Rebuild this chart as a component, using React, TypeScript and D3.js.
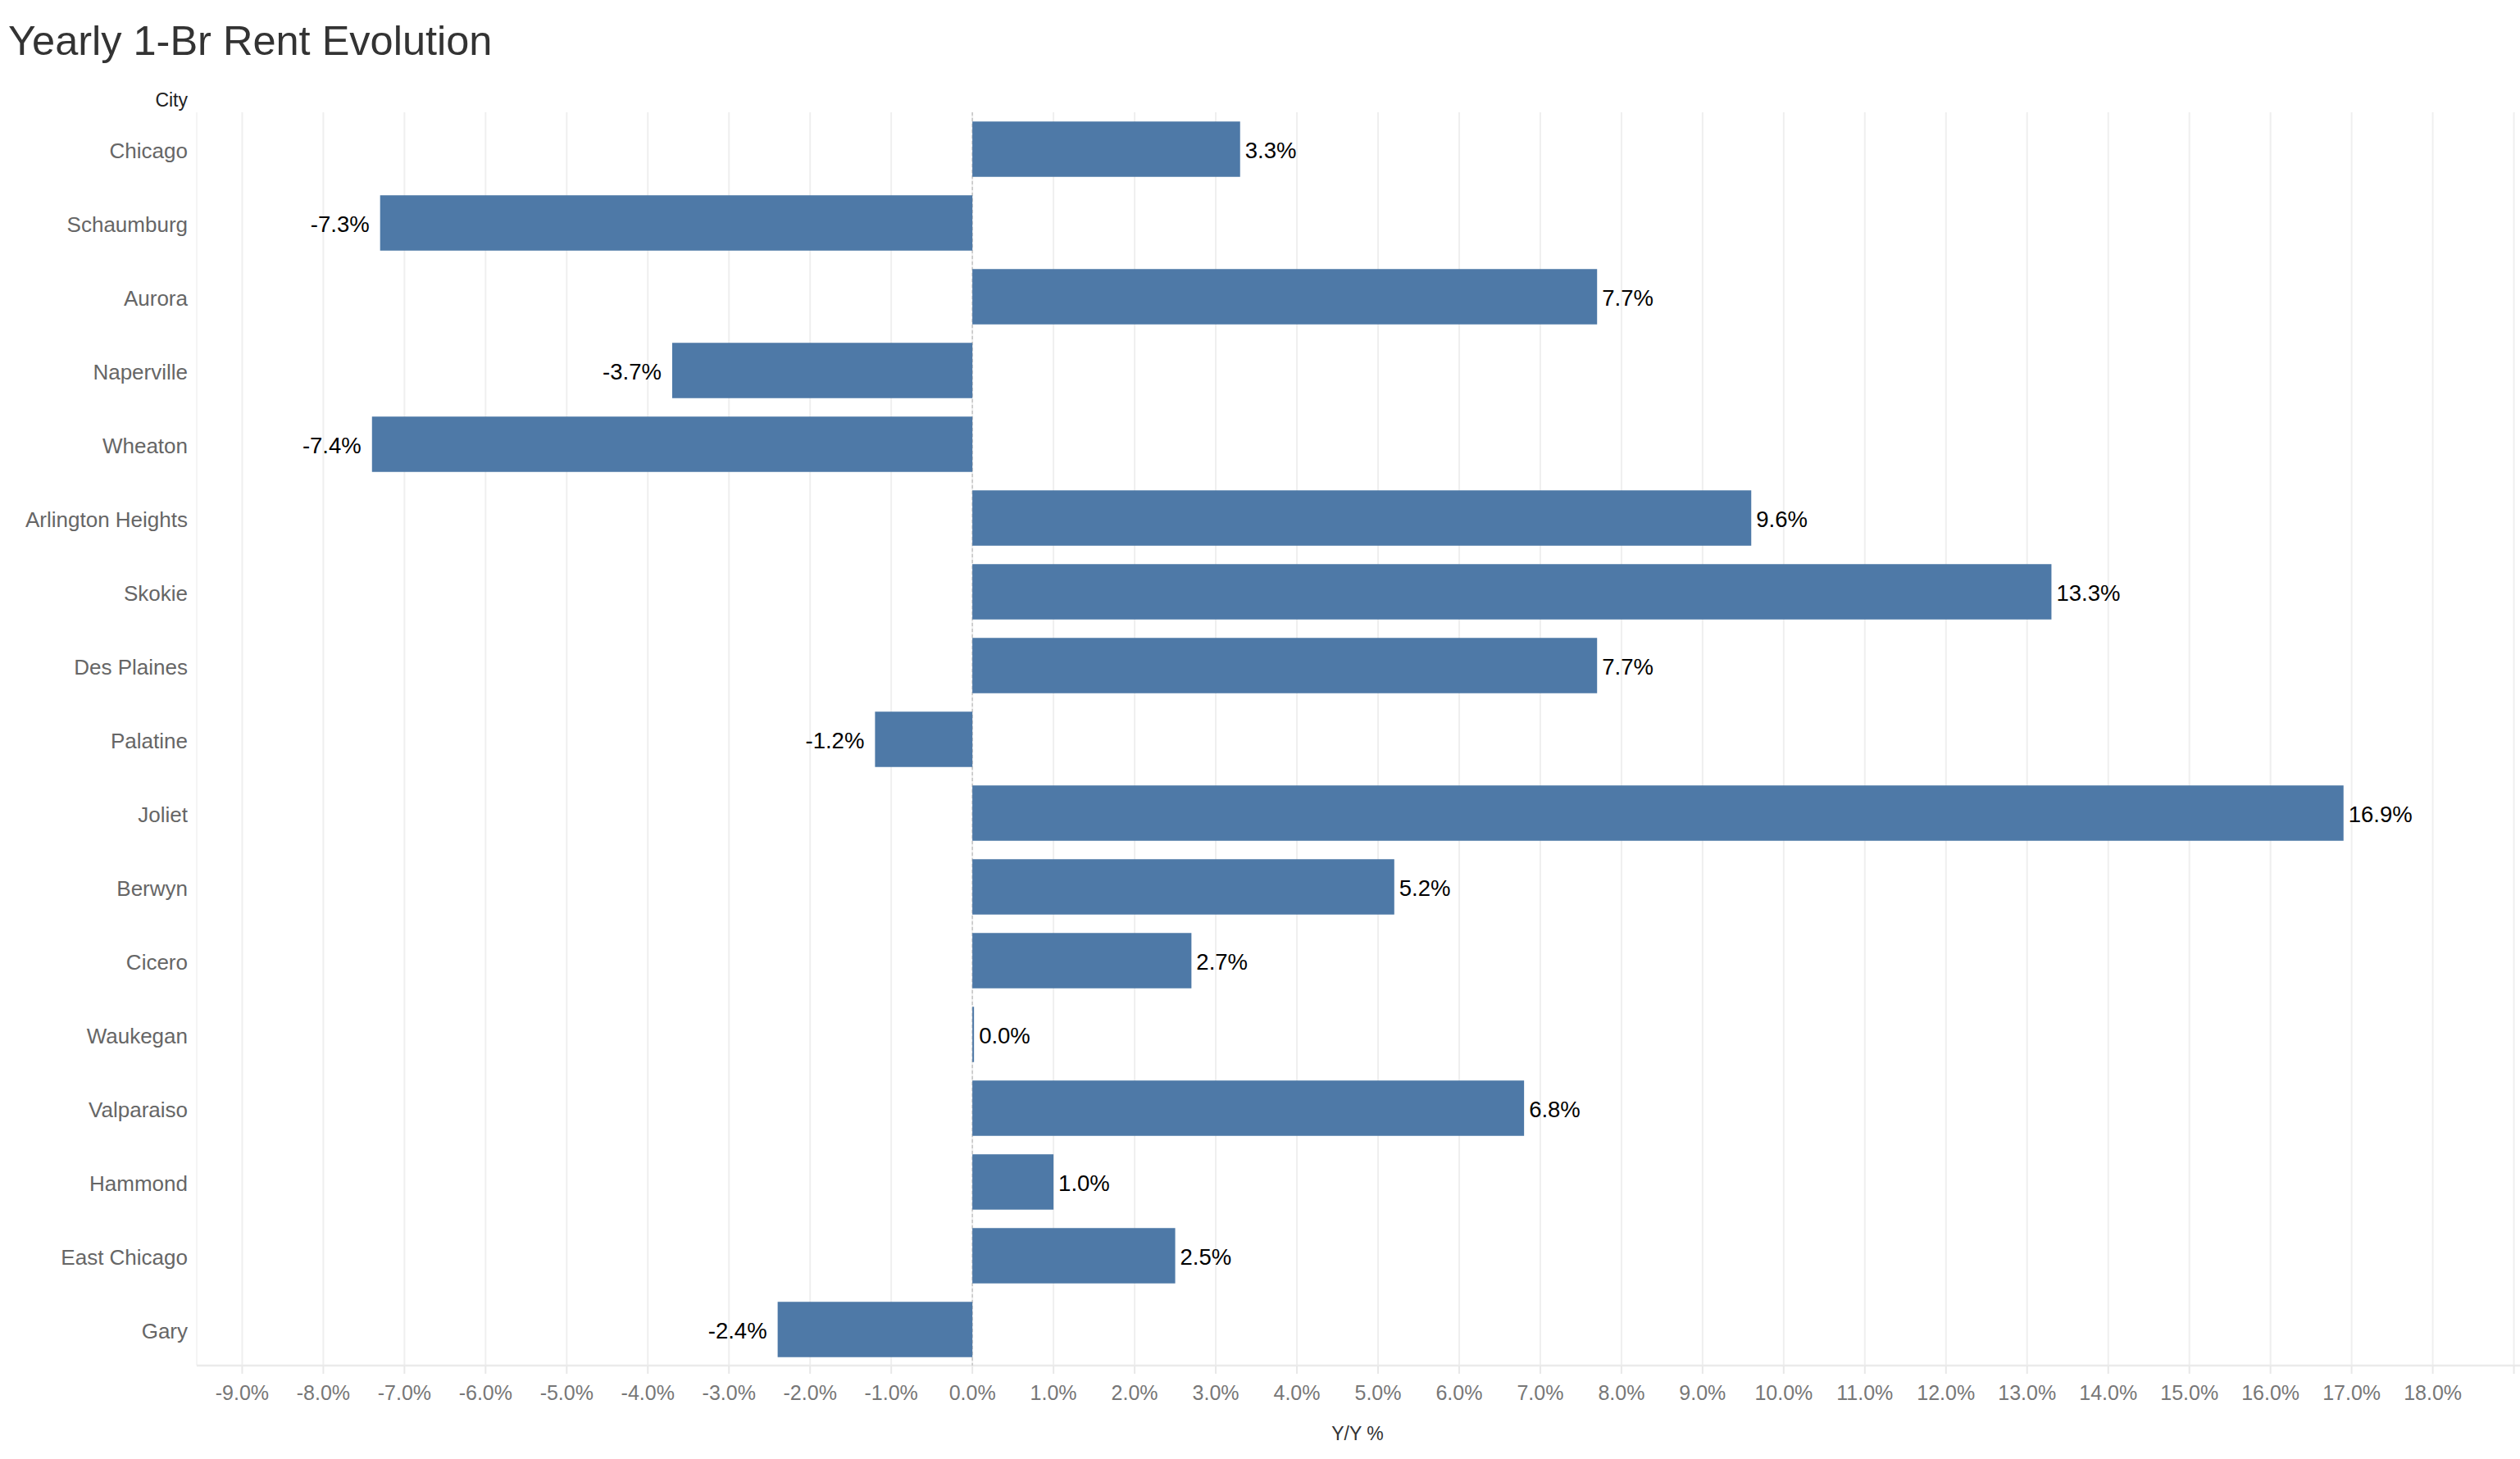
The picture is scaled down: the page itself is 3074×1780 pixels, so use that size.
import { useEffect, useRef } from 'react';
import * as d3 from 'd3';

const cities = [
  'Chicago', 'Schaumburg', 'Aurora', 'Naperville', 'Wheaton', 'Arlington Heights',
  'Skokie', 'Des Plaines', 'Palatine', 'Joliet', 'Berwyn', 'Cicero', 'Waukegan',
  'Valparaiso', 'Hammond', 'East Chicago', 'Gary'
];
const yoyChange = [3.3, -7.3, 7.7, -3.7, -7.4, 9.6, 13.3, 7.7, -1.2, 16.9, 5.2, 2.7, 0.0, 6.8, 1.0, 2.5, -2.4];
const xTickValues = [-9, -8, -7, -6, -5, -4, -3, -2, -1, 0, 1, 2, 3, 4, 5, 6, 7, 8, 9, 10, 11, 12, 13, 14, 15, 16, 17, 18, 19];
const labelledTicks = xTickValues.filter(t => t <= 18);

const FONT = '"Liberation Sans", Arial, sans-serif';

export default function App() {
  const svgRef = useRef<SVGSVGElement>(null);

  useEffect(() => {
    if (!svgRef.current) return;
    const svg = d3.select(svgRef.current);
    svg.selectAll('*').remove();

    const width = 3074;
    const height = 1780;
    const plot = { left: 240, right: 3072, top: 137, bottom: 1666 };

    const pct = d3.formatLocale({ decimal: '.', thousands: ',', grouping: [3], currency: ['$', ''], minus: '-' }).format('.1f');

    svg.attr('width', width).attr('height', height);

    const x = d3.scaleLinear().domain([-9.56, 19.055]).range([plot.left, plot.right]);
    const y = d3.scaleBand<string>()
      .domain(cities)
      .range([plot.top, plot.bottom + 1])
      .paddingInner(0.25)
      .paddingOuter(0.125);

    const data = cities.map((c, i) => ({ city: c, value: yoyChange[i] }));

    // Title
    svg.append('text')
      .attr('x', 10)
      .attr('y', 67)
      .attr('font-family', FONT)
      .attr('font-size', '50.5px')
      .attr('fill', '#333333')
      .text('Yearly 1-Br Rent Evolution');

    // Row header
    svg.append('text')
      .attr('x', 229)
      .attr('y', 130)
      .attr('text-anchor', 'end')
      .attr('font-family', FONT)
      .attr('font-size', '23px')
      .attr('fill', '#222222')
      .text('City');

    // Plot left border
    svg.append('line')
      .attr('x1', plot.left).attr('x2', plot.left)
      .attr('y1', plot.top).attr('y2', plot.bottom)
      .attr('stroke', '#f2f2f2')
      .attr('stroke-width', 1.5);

    // Grid lines
    svg.append('g')
      .selectAll('line')
      .data(xTickValues)
      .enter()
      .append('line')
      .attr('x1', d => x(d)).attr('x2', d => x(d))
      .attr('y1', plot.top).attr('y2', plot.bottom)
      .attr('stroke', '#efefef')
      .attr('stroke-width', 2);

    // Bottom axis
    const axis = svg.append('g');
    axis.append('line')
      .attr('x1', plot.left).attr('x2', width)
      .attr('y1', plot.bottom).attr('y2', plot.bottom)
      .attr('stroke', '#ebebeb')
      .attr('stroke-width', 2.5);
    axis.selectAll('.tick')
      .data(xTickValues)
      .enter()
      .append('line')
      .attr('x1', d => x(d)).attr('x2', d => x(d))
      .attr('y1', plot.bottom).attr('y2', plot.bottom + 10)
      .attr('stroke', '#e8e8e8')
      .attr('stroke-width', 2);
    axis.selectAll('.tick-label')
      .data(labelledTicks)
      .enter()
      .append('text')
      .attr('x', d => x(d))
      .attr('y', 1708)
      .attr('text-anchor', 'middle')
      .attr('font-family', FONT)
      .attr('font-size', '25px')
      .attr('fill', '#777777')
      .text(d => pct(d) + '%');

    // Axis title
    svg.append('text')
      .attr('x', (plot.left + plot.right) / 2)
      .attr('y', 1757)
      .attr('text-anchor', 'middle')
      .attr('font-family', FONT)
      .attr('font-size', '23px')
      .attr('fill', '#333333')
      .text('Y/Y %');

    // Zero reference line
    svg.append('line')
      .attr('x1', x(0)).attr('x2', x(0))
      .attr('y1', plot.top).attr('y2', plot.bottom)
      .attr('stroke', '#c4c4c4')
      .attr('stroke-width', 1.5)
      .attr('stroke-dasharray', '4,3');

    // Bars
    svg.append('g')
      .selectAll('rect')
      .data(data)
      .enter()
      .append('rect')
      .attr('x', d => Math.min(x(0), x(d.value)))
      .attr('y', d => y(d.city) as number)
      .attr('width', d => Math.max(2, Math.abs(x(d.value) - x(0))))
      .attr('height', y.bandwidth())
      .attr('fill', '#4e79a7');

    // Value labels
    svg.append('g')
      .selectAll('text')
      .data(data)
      .enter()
      .append('text')
      .attr('x', d => d.value >= 0 ? Math.max(x(d.value), x(0) + 2) + 6 : x(d.value) - 13)
      .attr('y', d => (y(d.city) as number) + y.bandwidth() / 2 + 1)
      .attr('dy', '0.35em')
      .attr('text-anchor', d => d.value >= 0 ? 'start' : 'end')
      .attr('font-family', FONT)
      .attr('font-size', '27.5px')
      .attr('fill', '#000000')
      .text(d => pct(d.value) + '%');

    // City labels
    svg.append('g')
      .selectAll('text')
      .data(cities)
      .enter()
      .append('text')
      .attr('x', 229)
      .attr('y', d => (y(d) as number) + y.bandwidth() / 2 + 2)
      .attr('dy', '0.35em')
      .attr('text-anchor', 'end')
      .attr('font-family', FONT)
      .attr('font-size', '26px')
      .attr('fill', '#666666')
      .text(d => d);
  }, []);

  return (
    <div style={{ width: 3074, height: 1780 }}>
      <style>{'body{margin:0;background:#fff}'}</style>
      <svg ref={svgRef} style={{ display: 'block' }} />
    </div>
  );
}
